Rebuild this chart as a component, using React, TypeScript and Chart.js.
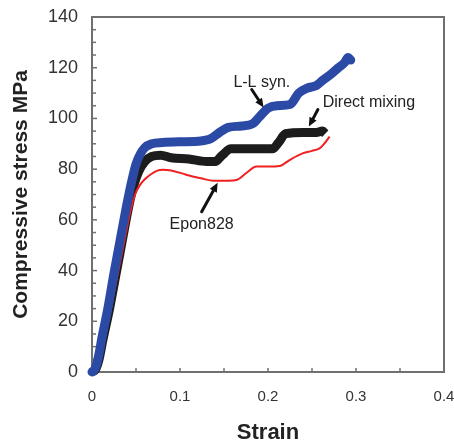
import React, { useEffect, useRef } from 'react';
import { Chart, registerables } from 'chart.js';

Chart.register(...registerables);

// L-L syn. (blue)
const llStrain = [0, 0.003, 0.006, 0.009, 0.011, 0.018, 0.025, 0.032, 0.039, 0.045, 0.05, 0.055, 0.06, 0.068, 0.08, 0.1, 0.12, 0.135, 0.145, 0.155, 0.17, 0.183, 0.19, 0.2, 0.21, 0.225, 0.235, 0.245, 0.255, 0.262, 0.27, 0.28, 0.287, 0.291, 0.294];
const llStress = [0, 1, 4, 9, 13, 25, 39, 52, 65, 75, 82, 86, 88.5, 90, 90.5, 90.8, 91, 92, 94.5, 96.5, 97, 98, 100.5, 104, 105, 105.5, 110, 112, 113, 115, 117, 120, 122, 124, 123];

// Direct mixing (black)
const dmStrain = [0, 0.004, 0.008, 0.012, 0.02, 0.027, 0.034, 0.041, 0.047, 0.053, 0.06, 0.068, 0.078, 0.09, 0.11, 0.13, 0.14, 0.148, 0.158, 0.18, 0.205, 0.212, 0.22, 0.24, 0.255, 0.262, 0.265];
const dmStress = [0, 1, 5, 12, 25, 38, 51, 64, 73, 79, 83, 85, 85.5, 84.5, 84, 83, 83, 85.5, 88, 88, 88, 90.5, 94, 94.5, 94.5, 95, 94];

// Epon828 (red)
const epStrain = [0, 0.005, 0.01, 0.015, 0.022, 0.03, 0.037, 0.044, 0.049, 0.054, 0.06, 0.067, 0.075, 0.08, 0.09, 0.107, 0.125, 0.138, 0.155, 0.165, 0.175, 0.187, 0.2, 0.213, 0.225, 0.24, 0.25, 0.259, 0.265, 0.27];
const epStress = [0, 1, 6, 14, 26, 40, 52, 64, 70, 73.5, 76, 78, 79.5, 79.8, 79.5, 77.8, 76.3, 75.4, 75.4, 75.8, 78.4, 81, 81, 81.2, 83.7, 86.3, 87.2, 88.3, 90.5, 92.8];

const seriesNames = ['L-L syn.', 'Direct mixing', 'Epon828'];

const xMin = 0;
const xMax = 0.4;
const xStep = 0.05;
const yMin = 0;
const yMax = 140;
const yStep = 5;

// annotation labels (text centre, arrow tail, arrow tip), in data units
const noteText = ['L-L syn.', 'Direct mixing', 'Epon828'];
const noteAt = [[0.193, 114.2], [0.3147, 106.2], [0.1246, 58]];
const arrowFrom = [[0.1815, 111.4], [0.2567, 103.5], [0.1246, 63.2]];
const arrowTo = [[0.195, 104.3], [0.2464, 96.8], [0.1428, 74.6]];

const FONT = '"Liberation Sans", Arial, Helvetica, sans-serif';

const toXY = (xs: number[], ys: number[]) => xs.map((x, i) => ({ x, y: ys[i] }));

const framePlugin = {
  id: 'frameTicks',
  beforeDatasetsDraw(chart: any) {
    const { ctx, chartArea: a, scales } = chart;
    ctx.save();
    ctx.strokeStyle = '#707070';
    ctx.lineWidth = 1.5;
    scales.y.ticks.forEach((t: any) => {
      const py = scales.y.getPixelForValue(t.value);
      const len = t.value % 20 === 0 ? 5 : 4;
      ctx.beginPath();
      ctx.moveTo(a.left, py);
      ctx.lineTo(a.left + len, py);
      ctx.stroke();
    });
    scales.x.ticks.forEach((t: any) => {
      const px = scales.x.getPixelForValue(t.value);
      ctx.beginPath();
      ctx.moveTo(px, a.bottom);
      ctx.lineTo(px, a.bottom - 4);
      ctx.stroke();
    });
    ctx.lineWidth = 2;
    ctx.strokeRect(a.left, a.top, a.right - a.left, a.bottom - a.top);
    ctx.restore();
  },
  afterDatasetsDraw(chart: any) {
    const { ctx, scales } = chart;
    const sx = (v: number) => scales.x.getPixelForValue(v);
    const sy = (v: number) => scales.y.getPixelForValue(v);
    ctx.save();
    ctx.fillStyle = '#222';
    ctx.strokeStyle = '#111';
    ctx.font = `16px ${FONT}`;
    ctx.textAlign = 'center';
    ctx.textBaseline = 'middle';
    noteText.forEach((txt, i) => {
      ctx.fillStyle = '#222';
      ctx.fillText(txt, sx(noteAt[i][0]), sy(noteAt[i][1]));
      const x1 = sx(arrowFrom[i][0]);
      const y1 = sy(arrowFrom[i][1]);
      const x2 = sx(arrowTo[i][0]);
      const y2 = sy(arrowTo[i][1]);
      const ang = Math.atan2(y2 - y1, x2 - x1);
      const head = 9;
      const bx = x2 - head * Math.cos(ang);
      const by = y2 - head * Math.sin(ang);
      ctx.lineWidth = 3;
      ctx.lineCap = 'round';
      ctx.beginPath();
      ctx.moveTo(x1, y1);
      ctx.lineTo(bx, by);
      ctx.stroke();
      ctx.fillStyle = '#111';
      ctx.beginPath();
      ctx.moveTo(x2, y2);
      ctx.lineTo(bx + 4 * Math.sin(ang), by - 4 * Math.cos(ang));
      ctx.lineTo(bx - 4 * Math.sin(ang), by + 4 * Math.cos(ang));
      ctx.closePath();
      ctx.fill();
    });
    ctx.restore();
  },
};

export default function App() {
  const ref = useRef<HTMLCanvasElement>(null);
  useEffect(() => {
    const chart = new Chart(ref.current as HTMLCanvasElement, {
      type: 'line',
      data: {
        datasets: [
          {
            label: seriesNames[0],
            data: toXY(llStrain, llStress),
            borderColor: '#2b4aa6',
            borderWidth: 9,
            pointRadius: 0,
            cubicInterpolationMode: 'monotone',
            borderCapStyle: 'round',
            borderJoinStyle: 'round',
            clip: false as any,
          },
          {
            label: seriesNames[2],
            data: toXY(epStrain, epStress),
            borderColor: '#f02020',
            borderWidth: 2,
            pointRadius: 0,
            cubicInterpolationMode: 'monotone',
            borderJoinStyle: 'round',
          },
          {
            label: seriesNames[1],
            data: toXY(dmStrain, dmStress),
            borderColor: '#1c1c1c',
            borderWidth: 9,
            pointRadius: 0,
            cubicInterpolationMode: 'monotone',
            borderCapStyle: 'butt',
            borderJoinStyle: 'round',
            clip: false as any,
          },
        ],
      },
      options: {
        responsive: true,
        maintainAspectRatio: false,
        animation: false,
        layout: { padding: { top: 17, right: 10, left: 0, bottom: 0 } },
        plugins: { legend: { display: false }, tooltip: { enabled: false } },
        scales: {
          x: {
            type: 'linear',
            min: xMin,
            max: xMax,
            grid: { display: false, drawTicks: false },
            border: { display: false },
            afterFit: (s: any) => { s.height = 70; s.paddingLeft = 0; s.paddingRight = 0; },
            ticks: {
              stepSize: xStep,
              autoSkip: false,
              maxRotation: 0,
              padding: 16,
              color: '#333',
              font: { family: FONT, size: 15 },
              callback: (v: any) => {
                const r = Math.round(Number(v) * 100);
                return r % 10 === 0 ? String(r / 100) : '';
              },
            },
            title: {
              display: true,
              text: 'Strain',
              color: '#222',
              padding: 0,
              font: { family: FONT, size: 22, weight: 'bold', lineHeight: 0.8 },
            },
          },
          y: {
            type: 'linear',
            min: yMin,
            max: yMax,
            grid: { display: false, drawTicks: false },
            border: { display: false },
            afterFit: (s: any) => { s.width = 92; s.paddingTop = 0; s.paddingBottom = 0; },
            ticks: {
              stepSize: yStep,
              autoSkip: false,
              padding: 14,
              color: '#333',
              font: { family: FONT, size: 18 },
              callback: (v: any) => (Math.round(Number(v)) % 20 === 0 ? String(Math.round(Number(v))) : ''),
            },
            title: {
              display: true,
              text: 'Compressive stress MPa',
              color: '#222',
              padding: { top: 9, bottom: 0 },
              font: { family: FONT, size: 21, weight: 'bold' },
            },
          },
        },
      },
      plugins: [framePlugin],
    } as any);
    return () => chart.destroy();
  }, []);
  return (
    <div style={{ position: 'fixed', left: 0, top: 0, width: 454, height: 442, background: '#fff' }}>
      <canvas ref={ref} />
    </div>
  );
}
